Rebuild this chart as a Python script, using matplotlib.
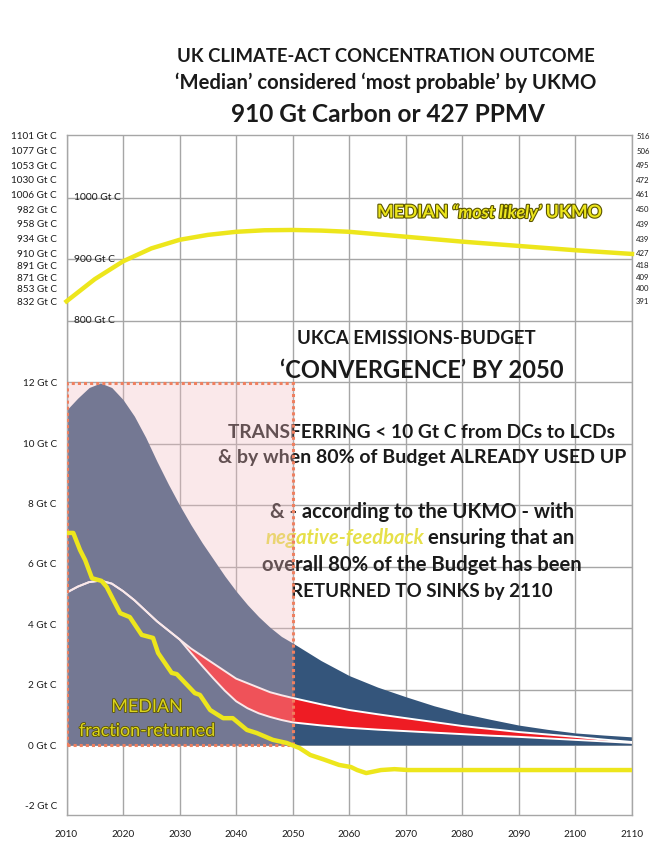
import matplotlib
matplotlib.use('Agg')
import matplotlib.pyplot as plt
import matplotlib.patheffects as pe
from matplotlib.patches import Rectangle
from matplotlib.transforms import blended_transform_factory

W, H = 651, 848
plt.rcParams['font.family'] = ['Lato', 'DejaVu Sans']

# ---------------- data ----------------
conc_years = [2010, 2015, 2020, 2025, 2030, 2035, 2040, 2045, 2050, 2055, 2060,
              2065, 2070, 2075, 2080, 2085, 2090, 2095, 2100, 2105, 2110]
conc_gtc = [832, 868, 897, 918, 932, 940, 945, 947.5, 948, 947, 945,
            941, 937, 933, 929, 925.5, 922, 918.5, 915, 912, 909]

years = [2010, 2012, 2014, 2016, 2018, 2020, 2022, 2024, 2026, 2028, 2030,
         2032, 2034, 2036, 2038, 2040, 2042, 2044, 2046, 2048, 2050,
         2055, 2060, 2065, 2070, 2075, 2080, 2085, 2090, 2095, 2100, 2105, 2110]
envelope = [11.1, 11.5, 11.85, 12.0, 11.85, 11.45, 10.9, 10.2, 9.4, 8.65, 7.95,
            7.3, 6.7, 6.15, 5.6, 5.1, 4.65, 4.25, 3.9, 3.6, 3.38,
            2.8, 2.3, 1.92, 1.6, 1.3, 1.05, 0.85, 0.66, 0.52, 0.4, 0.33, 0.27]
red_top = [5.05, 5.25, 5.4, 5.45, 5.35, 5.1, 4.8, 4.45, 4.1, 3.8, 3.5,
           3.2, 2.95, 2.7, 2.45, 2.2, 2.05, 1.9, 1.75, 1.65, 1.56,
           1.35, 1.16, 1.02, 0.89, 0.76, 0.63, 0.53, 0.43, 0.35, 0.27, 0.18, 0.1]
red_bottom = [5.05, 5.25, 5.4, 5.45, 5.35, 5.1, 4.8, 4.45, 4.1, 3.8, 3.5,
              3.05, 2.62, 2.2, 1.8, 1.45, 1.22, 1.05, 0.93, 0.83, 0.75,
              0.65, 0.57, 0.51, 0.46, 0.41, 0.36, 0.31, 0.27, 0.22, 0.17, 0.12, 0.07]

ret_years = [2010.0, 2011.2, 2012.4, 2013.3, 2014.5, 2016.2, 2017.1, 2019.5, 2021.2,
             2023.3, 2025.3, 2026.2, 2028.6, 2029.5, 2032.7, 2033.6, 2035.4, 2037.7,
             2039.4, 2041.9, 2043.6, 2046.5, 2048.9, 2051.2, 2053.1, 2055.5, 2058.2,
             2060.3, 2061.4, 2063.0, 2065.6, 2068.0, 2070.4, 2110.0]
ret_vals = [7.03, 7.03, 6.46, 6.13, 5.53, 5.44, 5.24, 4.37, 4.24,
            3.65, 3.55, 3.05, 2.39, 2.35, 1.72, 1.66, 1.16, 0.89,
            0.89, 0.5, 0.4, 0.17, 0.07, -0.1, -0.33, -0.48, -0.66,
            -0.73, -0.83, -0.93, -0.83, -0.8, -0.83, -0.83]

x_ticks = list(range(2010, 2111, 10))
lower_ticks = [-2, 0, 2, 4, 6, 8, 10, 12]
conc_ticks = [832, 853, 871, 891, 910, 934, 958, 982, 1006, 1030, 1053, 1077, 1101]
ppmv_labels = ['391', '400', '409', '418', '427', '439', '439', '450', '461',
               '472', '495', '506', '516']
conc_inside = [1000, 900, 800]
conc_grid = [200, 300, 400, 500, 600, 700, 800, 900, 1000]
box_years = (2010, 2050)
box_gtc = (0, 12)

# ---------------- colours ----------------
BLUE = '#34557b'
RED = '#ee1c24'
YELLOW = '#ede61c'
GRID = '#a6a6a6'
TXT = '#1a1a1a'

fig = plt.figure(figsize=(W / 100, H / 100), dpi=100)
L, R, T, B = 66.5, 632, 135, 815
ax = fig.add_axes([L / W, 1 - B / H, (R - L) / W, (B - T) / H])
ax.set_xlim(2010, 2110)
ax.set_ylim(-2.32, 20.22)

ax2 = ax.twinx()
ax2.set_ylim(-3.25, 1102.4)
ax3 = ax.twinx()
ax3.set_ylim(-3.25, 1102.4)

for a in (ax, ax2, ax3):
    for s in a.spines.values():
        s.set_color(GRID)
        s.set_linewidth(1.0)
for a in (ax2, ax3):
    for s in a.spines.values():
        s.set_visible(False)

# grid
ax.set_axisbelow(True)
ax.set_xticks(x_ticks)
ax.set_xticklabels([str(x) for x in x_ticks])
ax.grid(axis='x', color=GRID, linewidth=1.0, zorder=0.5)
tr = blended_transform_factory(ax.transAxes, ax2.transData)
for g in conc_grid:
    ax.plot([0, 1], [g, g], transform=tr, color=GRID, lw=1.0, zorder=0.6)
ax.axhline(0, color=GRID, lw=1.2, zorder=0.7)

# ticks
ax.tick_params(axis='x', length=0, pad=11, labelsize=7.2, labelcolor=TXT)
ax.set_yticks(lower_ticks)
ax.set_yticklabels([f'{v} Gt C' for v in lower_ticks])
ax.tick_params(axis='y', length=0, pad=7, labelsize=7.2, labelcolor=TXT)

ax2.yaxis.tick_left()
ax2.set_yticks(conc_ticks)
ax2.set_yticklabels([f'{v} Gt C' for v in conc_ticks])
ax2.tick_params(axis='y', length=0, pad=7, labelsize=7.2, labelcolor=TXT)

ax3.set_yticks(conc_ticks)
ax3.set_yticklabels(ppmv_labels)
ax3.tick_params(axis='y', length=0, pad=3, labelsize=5.6, labelcolor=TXT)

trc = blended_transform_factory(ax.transAxes, ax2.transData)
for v in conc_inside:
    ax.text(0.013, v, f'{v} Gt C', transform=trc, ha='left', va='center',
            fontsize=7.4, color=TXT, zorder=3)

# areas
ax.fill_between(years, 0, envelope, color=BLUE, lw=0, zorder=1)
ax.fill_between(years, red_bottom, red_top, color=RED, lw=0, zorder=2)
ax.plot(years, red_top, color='white', lw=1.4, zorder=3.5)
ax.plot(years, red_bottom, color='white', lw=1.4, zorder=3.5)

# pink overlay box
ax.add_patch(Rectangle((box_years[0], box_gtc[0]), box_years[1] - box_years[0],
                       box_gtc[1] - box_gtc[0], facecolor=(0.95, 0.74, 0.76, 0.34),
                       edgecolor='#ef8060', linestyle=(0, (1, 1)), linewidth=2.2,
                       zorder=4))

# yellow lines
ax.plot(ret_years, ret_vals, color=YELLOW, lw=3.2, zorder=6, solid_joinstyle='round')
ax2.plot(conc_years, conc_gtc, color=YELLOW, lw=3.2, zorder=6, clip_on=False)

# ---------------- text ----------------
def px(x, y):
    return x / W, 1 - y / H

renderer = fig.canvas.get_renderer()

def rich_line(x, y, parts, align='center', gap=4.0, zorder=3):
    texts, widths = [], []
    for s, kw in parts:
        t = ax.text(0, 0, s, transform=fig.transFigure, ha='left', va='center',
                    zorder=zorder, **kw)
        widths.append(t.get_window_extent(renderer=renderer).width)
        texts.append(t)
    total = sum(widths) + gap * (len(parts) - 1)
    x0 = x - total / 2 if align == 'center' else x
    for t, w in zip(texts, widths):
        t.set_position(px(x0, y))
        x0 += w + gap

fig.text(*px(386, 57), 'UK CLIMATE-ACT CONCENTRATION OUTCOME', ha='center', va='center',
         fontsize=13.3, fontweight='bold', color=TXT)
fig.text(*px(386, 83), '\u2018Median\u2019 considered \u2018most probable\u2019 by UKMO',
         ha='center', va='center', fontsize=14.6, fontweight='bold', color=TXT)
fig.text(*px(388, 115), '910 Gt Carbon or 427 PPMV', ha='center', va='center',
         fontsize=17.6, fontweight='bold', color=TXT)

outline = [pe.withStroke(linewidth=1.6, foreground='#5a5400')]
ms = 12.7
rich_line(377, 212, [('MEDIAN', dict(fontsize=ms, fontweight='bold', color=YELLOW, path_effects=outline)),
                     ('\u201cmost likely\u2019', dict(fontsize=ms, fontweight='bold', style='italic', color=YELLOW, path_effects=outline)),
                     ('UKMO', dict(fontsize=ms, fontweight='bold', color=YELLOW, path_effects=outline))],
          align='left', gap=4)

ax.text(*px(416, 338), 'UKCA EMISSIONS-BUDGET', transform=fig.transFigure, ha='center',
        va='center', fontsize=13.4, fontweight='bold', color=TXT, zorder=3)
ax.text(*px(422, 370), '\u2018CONVERGENCE\u2019 BY 2050', transform=fig.transFigure, ha='center',
        va='center', fontsize=17, fontweight='bold', color=TXT, zorder=3)
for s, yy, fs in [('TRANSFERRING < 10 Gt C from DCs to LCDs', 432, 13.8),
                  ('& by when 80% of Budget ALREADY USED UP', 458, 14.0),
                  ('& - according to the UKMO - with', 512, 14.5),
                  ('overall 80% of the Budget has been', 565, 14.6),
                  ('RETURNED TO SINKS by 2110', 592, 13.5)]:
    ax.text(*px(422, yy), s, transform=fig.transFigure, ha='center', va='center',
            fontsize=fs, fontweight='bold', color=TXT, zorder=3)
rich_line(420, 538, [('negative-feedback', dict(fontsize=14.6, fontweight='bold', style='italic', color='#e6e04a')),
                     ('ensuring that an', dict(fontsize=14.6, fontweight='bold', color=TXT))], gap=4.5)

for s, yy in [('MEDIAN', 707), ('fraction-returned', 731)]:
    ax.text(*px(147, yy), s, transform=fig.transFigure, ha='center', va='center',
            fontsize=12.9, color='#dcd41c', zorder=7,
            path_effects=[pe.withStroke(linewidth=1.2, foreground='#5a5400')])

fig.savefig('out.png', dpi=100)
